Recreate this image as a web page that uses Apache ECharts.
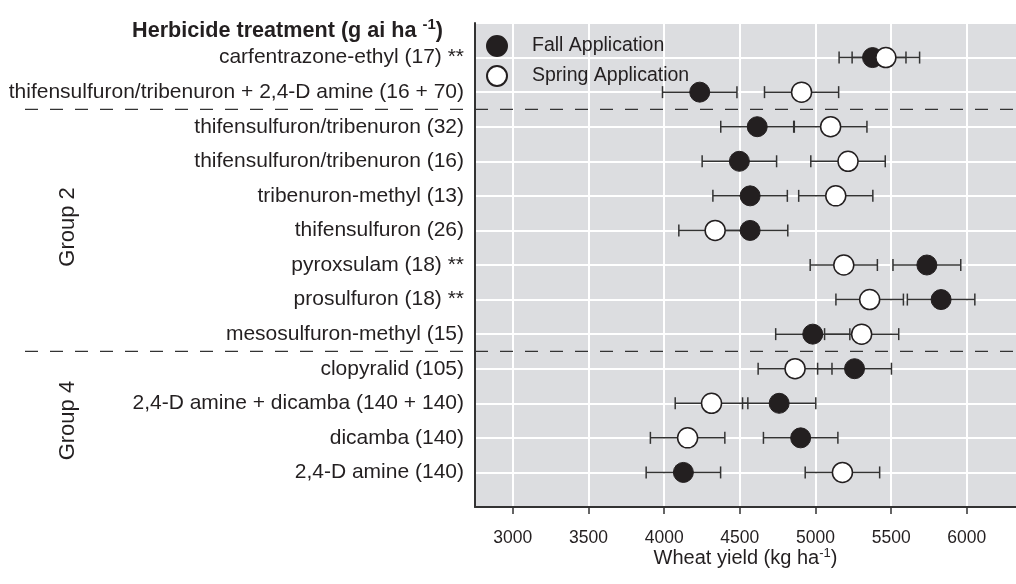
<!DOCTYPE html>
<html>
<head>
<meta charset="utf-8">
<script src="https://cdn.jsdelivr.net/npm/echarts@6/dist/echarts.min.js"></script>
<style>
html, body { margin: 0; padding: 0; background: #fff; }
#container { width: 1016px; height: 584px; }
</style>
</head>
<body>
<div id="container"></div>
<script>
// treatments, top to bottom (row 1..13)
var treatments = [
    'carfentrazone-ethyl (17) **',
    'thifensulfuron/tribenuron + 2,4-D amine (16 + 70)',
    'thifensulfuron/tribenuron (32)',
    'thifensulfuron/tribenuron (16)',
    'tribenuron-methyl (13)',
    'thifensulfuron (26)',
    'pyroxsulam (18) **',
    'prosulfuron (18) **',
    'mesosulfuron-methyl (15)',
    'clopyralid (105)',
    '2,4-D amine + dicamba (140 + 140)',
    'dicamba (140)',
    '2,4-D amine (140)'
];
// wheat yield kg/ha and error half width
var fallYield   = [5377, 4235, 4615, 4497, 4568, 4568, 5736, 5830, 4982, 5258, 4760, 4902, 4127];
var fallErr     = [221, 246, 241, 246, 246, 249, 224, 223, 245, 244, 242, 246, 246];
var springYield = [5465, 4908, 5100, 5215, 5134, 4337, 5187, 5358, 5305, 4865, 4313, 4155, 5178];
var springErr   = [223, 245, 240, 246, 245, 240, 222, 223, 245, 244, 240, 246, 246];
var xTicks = [3000, 3500, 4000, 4500, 5000, 5500, 6000];
// group separators (between rows) and group label centres
var separators = [2.5, 9.5];
var groups = [{ name: 'Group 2', row: 5.9 }, { name: 'Group 4', row: 11.5 }];

var ink = '#231f20';

var dom = document.getElementById('container');
var myChart = echarts.init(dom);

function pointData(vals) {
    var res = [];
    for (var i = 0; i < vals.length; i++) {
        res.push([vals[i], i + 1]);
    }
    return res;
}
function errData(vals, errs) {
    var res = [];
    for (var i = 0; i < vals.length; i++) {
        res.push([vals[i] - errs[i], vals[i] + errs[i], i + 1]);
    }
    return res;
}
function renderErr(params, api) {
    var lo = api.coord([api.value(0), api.value(2)]);
    var hi = api.coord([api.value(1), api.value(2)]);
    var h = 6;
    var st = { stroke: '#333', lineWidth: 1.5 };
    return {
        type: 'group',
        children: [
            { type: 'line', shape: { x1: lo[0], y1: lo[1], x2: hi[0], y2: hi[1] }, style: st },
            { type: 'line', shape: { x1: lo[0], y1: lo[1] - h, x2: lo[0], y2: lo[1] + h }, style: st },
            { type: 'line', shape: { x1: hi[0], y1: hi[1] - h, x2: hi[0], y2: hi[1] + h }, style: st }
        ]
    };
}

var option = {
    animation: false,
    textStyle: { fontFamily: 'Liberation Sans, Arial, sans-serif', color: ink },
    title: {
        text: '{b|Herbicide treatment (g ai ha }{s|-1}{b|)}',
        right: 573,
        top: 17,
        padding: 0,
        textStyle: {
            rich: {
                b: { fontSize: 21.6, fontWeight: 'bold', color: ink, fontFamily: 'Liberation Sans' },
                s: { fontSize: 15, fontWeight: 'bold', color: ink, fontFamily: 'Liberation Sans', padding: [0, 0, 13, 0] }
            }
        }
    },
    legend: {
        orient: 'vertical',
        left: 481,
        top: 30,
        itemWidth: 60,
        itemHeight: 20,
        itemGap: 8,
        textStyle: { fontSize: 19.5, color: ink },
        data: ['Fall Application', 'Spring Application']
    },
    grid: { left: 475, right: 0, top: 23, bottom: 77, containLabel: false,
        show: true, backgroundColor: '#dcdde0', borderWidth: 0 },
    xAxis: {
        type: 'value',
        min: 2750,
        max: 6325,
        name: '{n|Wheat yield (kg ha}{s|-1}{n|)}',
        nameLocation: 'middle',
        nameGap: 40,
        nameMoveOverlap: false,
        nameTextStyle: {
            rich: {
                n: { fontSize: 20, color: ink },
                s: { fontSize: 13, color: ink, padding: [0, 0, 10, 0] }
            }
        },
        axisLine: { show: true, onZero: false, lineStyle: { color: '#333', width: 2 } },
        axisTick: { show: true, length: 7, customValues: xTicks, lineStyle: { color: '#333', width: 1.5 } },
        axisLabel: {
            customValues: xTicks,
            fontSize: 17.5,
            color: ink,
            margin: 22,
            formatter: function (v) { return String(v); }
        },
        splitLine: { show: true, lineStyle: { color: '#fff', width: 2 } }
    },
    yAxis: {
        type: 'value',
        min: 0,
        max: 14,
        interval: 1,
        inverse: true,
        axisLine: { show: true, lineStyle: { color: '#333', width: 2 } },
        axisTick: { show: false },
        axisLabel: {
            fontSize: 21,
            color: ink,
            margin: 11,
            formatter: function (v) {
                return treatments[v - 1] || '';
            }
        },
        splitLine: { show: true, lineStyle: { color: '#fff', width: 2 } }
    },
    series: [
        {
            type: 'custom',
            name: 'fallErr',
            renderItem: renderErr,
            encode: { x: [0, 1], y: 2 },
            data: errData(fallYield, fallErr),
            z: 2
        },
        {
            type: 'custom',
            name: 'springErr',
            renderItem: renderErr,
            encode: { x: [0, 1], y: 2 },
            data: errData(springYield, springErr),
            z: 2
        },
        {
            name: 'Fall Application',
            type: 'scatter',
            symbol: 'circle',
            symbolSize: 20,
            itemStyle: { color: ink, borderColor: ink, borderWidth: 1, opacity: 1 },
            data: pointData(fallYield),
            z: 3
        },
        {
            name: 'Spring Application',
            type: 'scatter',
            symbol: 'circle',
            symbolSize: 20,
            itemStyle: { color: '#fff', borderColor: ink, borderWidth: 1.5, opacity: 1 },
            data: pointData(springYield),
            z: 4
        }
    ]
};
myChart.setOption(option);

// separators and group labels placed through the axes
var gfx = [];
for (var i = 0; i < separators.length; i++) {
    var py = myChart.convertToPixel({ yAxisIndex: 0 }, separators[i]);
    gfx.push({
        type: 'line',
        shape: { x1: 25, y1: py, x2: 1016, y2: py },
        style: { stroke: '#333', lineWidth: 1.3, lineDash: [13, 12] },
        z: 10
    });
}
for (var j = 0; j < groups.length; j++) {
    var gy = myChart.convertToPixel({ yAxisIndex: 0 }, groups[j].row);
    gfx.push({
        type: 'text',
        x: 68,
        y: gy,
        rotation: Math.PI / 2,
        style: { text: groups[j].name, fontSize: 22, fill: ink, fontFamily: 'Liberation Sans',
            align: 'center', verticalAlign: 'middle' },
        z: 10
    });
}
myChart.setOption({ graphic: gfx });
</script>
</body>
</html>
